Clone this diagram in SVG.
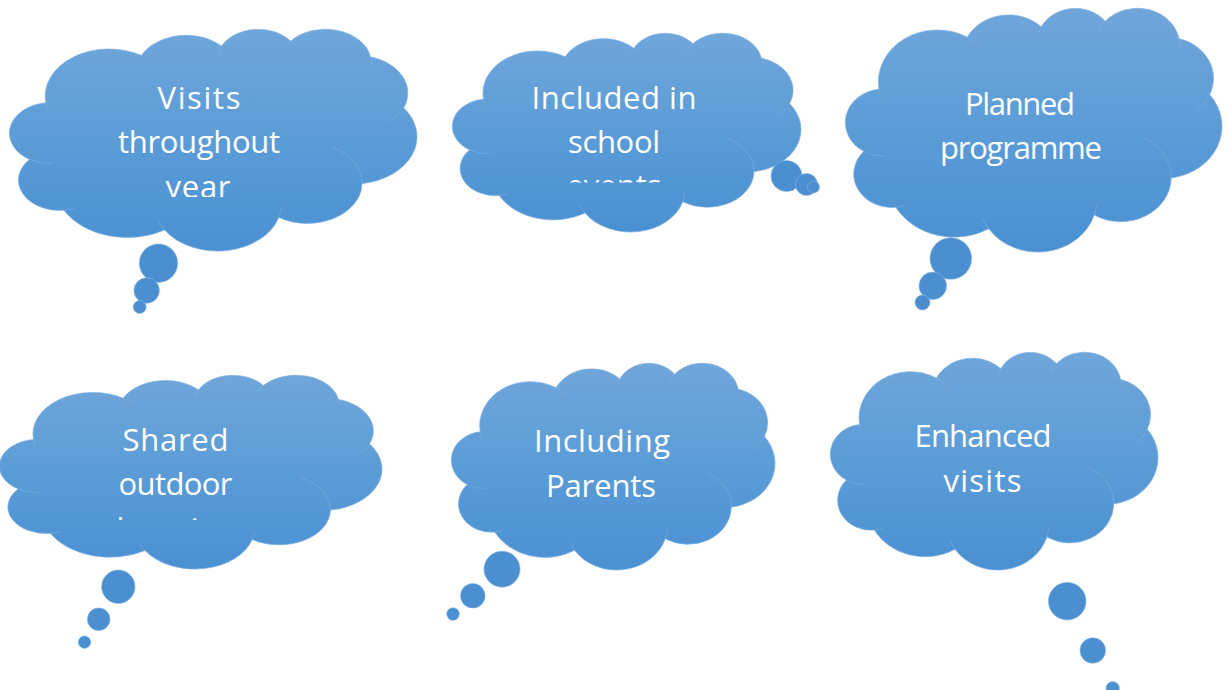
<svg xmlns="http://www.w3.org/2000/svg" xmlns:xlink="http://www.w3.org/1999/xlink" width="1227" height="690" viewBox="0 0 1227 690">
<style>
.cloud{fill:url(#cg);stroke:#7FB0E2;stroke-opacity:0.7;stroke-width:1}
.inner{fill:none;stroke:#7FB0E2;stroke-opacity:0.55;stroke-width:1}
.bub{fill:#4C8FD1;stroke:#86B5E4;stroke-opacity:0.6;stroke-width:1}
.t{font-family:"Open Sans","Liberation Sans",sans-serif;font-size:31px;fill:#FFFFFF;text-anchor:middle}
</style>
<defs>
<linearGradient id="cg" x1="0" y1="0" x2="0" y2="1">
<stop offset="0" stop-color="#70A6DA"/>
<stop offset="0.5" stop-color="#5B9CD7"/>
<stop offset="1" stop-color="#4A90D2"/>
</linearGradient>
<path id="cloudOuter" vector-effect="non-scaling-stroke" d="M1950,7185 A2172,2972 0 0 0 1080,12690 A2180,2959 0 0 0 2910,17640 A3860,5271.5 0 0 0 8235,19545 A3376,4607.5 0 0 0 14280,18330 A2892.5,3933.5 0 0 0 18690,15045 A3387.5,4610 0 0 0 20895,7665 A2666.5,3636.5 0 0 0 19140,2715 A2428.5,3297.5 0 0 0 14910,1170 A2182.5,2972.5 0 0 0 11250,1665 A2666.5,3633.5 0 0 0 7005,2580 A3376.5,4595 0 0 0 1950,7185 Z"/>
<path id="cloudInner" vector-effect="non-scaling-stroke" d="M2346,13088 A2172,2972 0 0 1 1080,12690 M3464,17449 A2180,2959 0 0 1 2910,17640 M8239,19545 A3376,4607 0 0 1 7896,18680 M14413,17375 A3376,4607 0 0 1 14280,18330 M17064,11477 A2892,3933 0 0 1 18690,15045 M20899,7677 A2666,3636 0 0 1 20162,9000 M19162,2713 A2428,3297 0 0 1 19186,3344 M14539,1976 A2428,3297 0 0 1 14910,1170 M11070,2360 A2182,2972 0 0 1 11250,1665 M7000,2596 A3376,4595 0 0 1 7644,3276 M2063,7894 A3376,4595 0 0 1 1950,7185"/>
<clipPath id="clip1"><rect x="0" y="0" width="420" height="197"/></clipPath>
<clipPath id="clip2"><rect x="440" y="0" width="400" height="182.5"/></clipPath>
<clipPath id="clip4"><rect x="0" y="370" width="400" height="150"/></clipPath>
</defs>

<g id="node-visits">
<g transform="translate(9,29) scale(0.018889,0.010278)">
<use href="#cloudOuter" class="cloud"/>
<use href="#cloudInner" class="inner"/>
</g>
<circle class="bub" cx="158.5" cy="263.2" r="19.2"/>
<circle class="bub" cx="146.7" cy="290.5" r="12.7"/>
<circle class="bub" cx="139.7" cy="307" r="6.5"/>
<g clip-path="url(#clip1)">
<text class="t" x="199" y="108.5" textLength="83" lengthAdjust="spacing">Visits</text>
<text class="t" x="199" y="153" textLength="162" lengthAdjust="spacing">throughout</text>
<text class="t" x="198" y="197.5" textLength="65" lengthAdjust="spacing">year</text>
</g>
</g>

<g id="node-included">
<g transform="translate(452,33) scale(0.016157,0.009213)">
<use href="#cloudOuter" class="cloud"/>
<use href="#cloudInner" class="inner"/>
</g>
<circle class="bub" cx="786.5" cy="176" r="15.5"/>
<circle class="bub" cx="806.5" cy="184.5" r="11"/>
<circle class="bub" cx="813.5" cy="187" r="6"/>
<g clip-path="url(#clip2)">
<text class="t" x="614" y="109" textLength="165" lengthAdjust="spacing">Included in</text>
<text class="t" x="614" y="153" textLength="92" lengthAdjust="spacing">school</text>
<text class="t" x="614" y="197">events</text>
</g>
</g>

<g id="node-planned">
<g transform="translate(845,8) scale(0.017454,0.011296)">
<use href="#cloudOuter" class="cloud"/>
<use href="#cloudInner" class="inner"/>
</g>
<circle class="bub" cx="950.8" cy="258.5" r="20.8"/>
<circle class="bub" cx="932.8" cy="285.8" r="13.8"/>
<circle class="bub" cx="922.5" cy="302.5" r="7.5"/>
<text class="t" x="1020" y="114.5" textLength="110" lengthAdjust="spacing">Planned</text>
<text class="t" x="1021" y="159" textLength="162" lengthAdjust="spacing">programme</text>
</g>

<g id="node-shared">
<g transform="translate(-1,375) scale(0.017731,0.008981)">
<use href="#cloudOuter" class="cloud"/>
<use href="#cloudInner" class="inner"/>
</g>
<circle class="bub" cx="118.3" cy="586.7" r="16.7"/>
<circle class="bub" cx="98.7" cy="619.2" r="11.3"/>
<circle class="bub" cx="84.5" cy="642.2" r="6.2"/>
<g clip-path="url(#clip4)">
<text class="t" x="175.5" y="451" textLength="106" lengthAdjust="spacing">Shared</text>
<text class="t" x="175.5" y="495" textLength="114" lengthAdjust="spacing">outdoor</text>
<text class="t" x="175.5" y="539.5">learning</text>
</g>
</g>

<g id="node-parents">
<g transform="translate(451,363) scale(0.015,0.009583)">
<use href="#cloudOuter" class="cloud"/>
<use href="#cloudInner" class="inner"/>
</g>
<circle class="bub" cx="502" cy="569.2" r="18"/>
<circle class="bub" cx="472.8" cy="595.8" r="12.3"/>
<circle class="bub" cx="453" cy="614" r="6.3"/>
<text class="t" x="602" y="452" textLength="136" lengthAdjust="spacing">Including</text>
<text class="t" x="601" y="496.5" textLength="110" lengthAdjust="spacing">Parents</text>
</g>

<g id="node-enhanced">
<g transform="translate(830,352) scale(0.015185,0.010093)">
<use href="#cloudOuter" class="cloud"/>
<use href="#cloudInner" class="inner"/>
</g>
<circle class="bub" cx="1067.2" cy="601.2" r="18.8"/>
<circle class="bub" cx="1092.8" cy="650.5" r="12.8"/>
<circle class="bub" cx="1112.7" cy="688.3" r="6.7"/>
<text class="t" x="983" y="447" textLength="137" lengthAdjust="spacing">Enhanced</text>
<text class="t" x="982.5" y="491.5" textLength="78" lengthAdjust="spacing">visits</text>
</g>

<g id="connectors"></g>
</svg>
